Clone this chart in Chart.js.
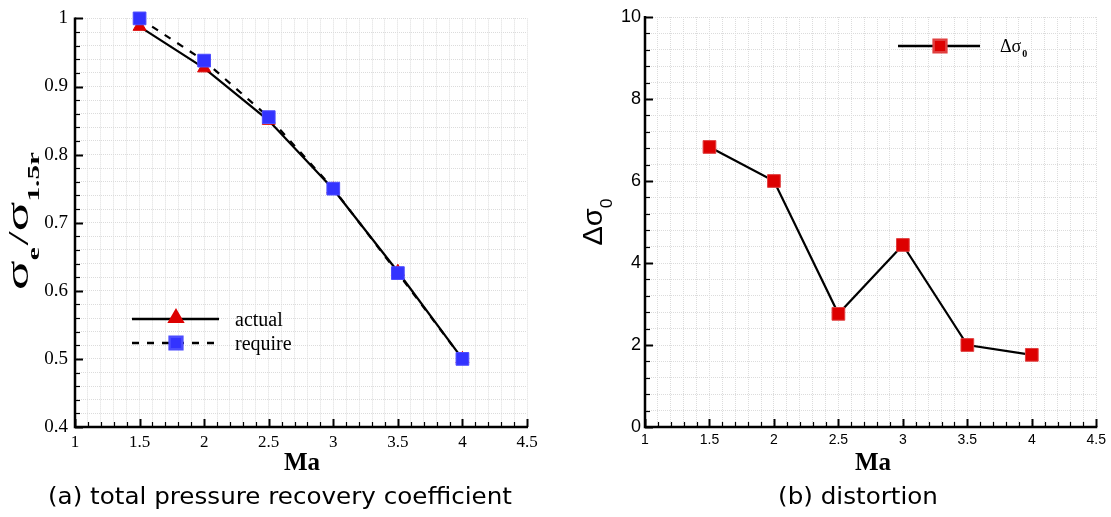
<!DOCTYPE html>
<html><head><meta charset="utf-8">
<script src="https://cdn.jsdelivr.net/npm/chart.js@4.4.0/dist/chart.umd.min.js"></script>
<style>
html,body{margin:0;padding:0;background:#fff;}
#wrap{position:relative;width:1111px;height:517px;overflow:hidden;background:#fff;}
.c{position:absolute;top:0;height:517px;}
</style></head><body>
<div id="wrap">
<div class="c" style="left:0;width:556px"><canvas id="chartA"></canvas></div>
<div class="c" style="left:556px;width:555px"><canvas id="chartB"></canvas></div>
</div>
<script>
// ---- data ----
const machNumbers = [1.5, 2, 2.5, 3, 3.5, 4];
const actualRecovery = [0.988, 0.927, 0.850, 0.749, 0.628, 0.500];
const requiredRecovery = [1.000, 0.938, 0.855, 0.750, 0.626, 0.500];
const distortion = [6.83, 6.00, 2.76, 4.44, 2.00, 1.76];
const xTickLabels = ['1', '1.5', '2', '2.5', '3', '3.5', '4', '4.5'];
const recoveryTickLabels = ['0.4', '0.5', '0.6', '0.7', '0.8', '0.9', '1'];
const distortionTickLabels = ['0', '2', '4', '6', '8', '10'];
const seriesNames = ['actual', 'require'];

const SERIF = "'Liberation Serif', 'DejaVu Serif', serif";
const SANS = "'Liberation Sans', 'DejaVu Sans', sans-serif";

function labelFor(v, list) {
  for (const l of list) { if (Math.abs(parseFloat(l) - v) < 1e-6) return l; }
  return '';
}
function isLabeled(v, list) { return labelFor(v, list) !== ''; }

function drawAxes(chart, xList, yList) {
  const {ctx, chartArea: ca, scales: {x, y}} = chart;
  ctx.save();
  ctx.strokeStyle = '#000';
  x.ticks.forEach(t => {
    const px = Math.round(x.getPixelForValue(t.value)) + 0.5;
    const major = isLabeled(t.value, xList);
    ctx.lineWidth = major ? 2 : 1.2;
    ctx.beginPath(); ctx.moveTo(px, ca.bottom); ctx.lineTo(px, ca.bottom - (major ? 8 : 5)); ctx.stroke();
  });
  y.ticks.forEach(t => {
    const py = Math.round(y.getPixelForValue(t.value)) + 0.5;
    const major = isLabeled(t.value, yList);
    ctx.lineWidth = major ? 2 : 1.2;
    ctx.beginPath(); ctx.moveTo(ca.left, py); ctx.lineTo(ca.left + (major ? 8 : 5), py); ctx.stroke();
  });
  ctx.lineWidth = 2.5;
  ctx.beginPath();
  ctx.moveTo(ca.left, ca.top - 1);
  ctx.lineTo(ca.left, ca.bottom);
  ctx.lineTo(ca.right + 1, ca.bottom);
  ctx.stroke();
  ctx.restore();
}

function drawRotatedParts(ctx, cx, baseX, parts, targetLen) {
  ctx.save();
  let w = 0;
  parts.forEach(p => { ctx.font = p.font; p.w = ctx.measureText(p.t).width; w += p.w + (p.gap || 0); });
  const s = targetLen ? targetLen / w : 1;
  ctx.translate(baseX, cx);
  ctx.rotate(-Math.PI / 2);
  ctx.scale(s, 1);
  let pos = -w / 2;
  ctx.fillStyle = '#000';
  ctx.textBaseline = 'alphabetic';
  ctx.textAlign = 'left';
  parts.forEach(p => { ctx.font = p.font; ctx.fillText(p.t, pos, p.dy || 0); pos += p.w + (p.gap || 0); });
  ctx.restore();
}

function drawCaption(ctx, text, cx, baseY, font, scaleX) {
  ctx.save();
  ctx.font = font;
  ctx.fillStyle = '#000';
  ctx.textBaseline = 'alphabetic';
  ctx.textAlign = 'center';
  ctx.translate(cx, baseY);
  ctx.scale(scaleX, 1);
  ctx.fillText(text, 0, 0);
  ctx.restore();
}

const CAPTION_FONT = "23px 'DejaVu Sans', sans-serif";
function captionScale(ctx) {
  ctx.save(); ctx.font = CAPTION_FONT;
  const w = ctx.measureText('(a) total pressure recovery coefficient').width;
  ctx.restore();
  return 464 / w;
}

const gridCommon = {color: '#dcdcdc', lineWidth: 1, drawTicks: false};

// ---------------- Chart A ----------------
const decorA = {
  id: 'decorA',
  beforeDatasetsDraw(chart) { drawAxes(chart, xTickLabels, recoveryTickLabels); },
  afterDraw(chart) {
    const ctx = chart.ctx;
    drawRotatedParts(ctx, 221, 28, [
      {t: 'σ', font: `32px ${SERIF}`},
      {t: 'e', font: `bold 17px ${SERIF}`, dy: 11, gap: 1},
      {t: '/', font: `30px ${SERIF}`},
      {t: 'σ', font: `32px ${SERIF}`},
      {t: '1.5r', font: `bold 17px ${SERIF}`, dy: 11}
    ], 138);
    ctx.save();
    ctx.font = `bold 25px ${SERIF}`; ctx.fillStyle = '#000'; ctx.textAlign = 'center'; ctx.textBaseline = 'alphabetic';
    ctx.fillText('Ma', 302, 470);
    ctx.restore();
    // legend
    ctx.save();
    ctx.strokeStyle = '#000'; ctx.lineWidth = 2.5;
    ctx.beginPath(); ctx.moveTo(132, 319); ctx.lineTo(219, 319); ctx.stroke();
    ctx.setLineDash([7, 8]);
    ctx.beginPath(); ctx.moveTo(132, 343); ctx.lineTo(219, 343); ctx.stroke();
    ctx.setLineDash([]);
    ctx.fillStyle = '#dd0000'; ctx.strokeStyle = '#dd0000';
    Chart.helpers.drawPoint(ctx, {pointStyle: 'triangle', radius: 7.5, borderWidth: 1, rotation: 0}, 176, 318);
    ctx.fillStyle = '#3333ff'; ctx.strokeStyle = '#4d4dff';
    Chart.helpers.drawPoint(ctx, {pointStyle: 'rect', radius: 9, borderWidth: 1, rotation: 0}, 176, 343);
    ctx.fillStyle = '#000'; ctx.font = `20px ${SERIF}`; ctx.textAlign = 'left'; ctx.textBaseline = 'alphabetic';
    ctx.fillText(seriesNames[0], 235, 326);
    ctx.fillText(seriesNames[1], 235, 350);
    ctx.restore();
    drawCaption(ctx, '(a) total pressure recovery coefficient', 280, 504, CAPTION_FONT, captionScale(ctx));
  }
};

new Chart(document.getElementById('chartA'), {
  type: 'line',
  data: {
    datasets: [
      {
        label: seriesNames[0],
        data: machNumbers.map((m, i) => ({x: m, y: actualRecovery[i]})),
        borderColor: '#000', borderWidth: 2.2,
        pointStyle: 'triangle', pointRadius: 7.5,
        pointBackgroundColor: '#dd0000', pointBorderColor: '#dd0000', pointBorderWidth: 1,
        order: 2, clip: false, tension: 0
      },
      {
        label: seriesNames[1],
        data: machNumbers.map((m, i) => ({x: m, y: requiredRecovery[i]})),
        borderColor: '#000', borderWidth: 2.2, borderDash: [7, 8],
        pointStyle: 'rect', pointRadius: 9,
        pointBackgroundColor: '#3333ff', pointBorderColor: '#4d4dff', pointBorderWidth: 1,
        order: 1, clip: false, tension: 0
      }
    ]
  },
  options: {
    responsive: true, maintainAspectRatio: false, animation: false, devicePixelRatio: 1,
    layout: {padding: {top: 16, right: 29, left: 0, bottom: 0}},
    plugins: {legend: {display: false}, tooltip: {enabled: false}, title: {display: false}},
    scales: {
      x: {
        type: 'linear', min: 1, max: 4.5,
        ticks: {stepSize: 0.1, maxTicksLimit: 1000, autoSkip: false, maxRotation: 0, padding: 5, color: '#000',
          font: {family: SERIF, size: 17}, callback: v => labelFor(v, xTickLabels)},
        grid: gridCommon, border: {display: false, dash: [1, 1]},
        afterFit: s => { s.height = 90; }
      },
      y: {
        type: 'linear', min: 0.4, max: 1,
        ticks: {stepSize: 0.02, maxTicksLimit: 1000, autoSkip: false, padding: 7, color: '#000',
          font: {family: SERIF, size: 19}, callback: v => labelFor(v, recoveryTickLabels)},
        grid: gridCommon, border: {display: false, dash: [1, 1]},
        afterFit: s => { s.width = 75; }
      }
    }
  },
  plugins: [decorA]
});

// ---------------- Chart B ----------------
const decorB = {
  id: 'decorB',
  beforeDatasetsDraw(chart) { drawAxes(chart, xTickLabels, distortionTickLabels); },
  afterDraw(chart) {
    const ctx = chart.ctx;
    drawRotatedParts(ctx, 222, 46, [
      {t: 'Δσ', font: `28px ${SANS}`},
      {t: '0', font: `17px ${SANS}`, dy: 10}
    ], 47);
    ctx.save();
    ctx.font = `bold 25px ${SERIF}`; ctx.fillStyle = '#000'; ctx.textAlign = 'center'; ctx.textBaseline = 'alphabetic';
    ctx.fillText('Ma', 873 - 556, 470);
    ctx.restore();
    // legend
    ctx.save();
    ctx.strokeStyle = '#000'; ctx.lineWidth = 2.5;
    ctx.beginPath(); ctx.moveTo(898 - 556, 46); ctx.lineTo(980 - 556, 46); ctx.stroke();
    ctx.fillStyle = '#dd0000'; ctx.strokeStyle = '#e04040';
    Chart.helpers.drawPoint(ctx, {pointStyle: 'rect', radius: 9, borderWidth: 1, rotation: 0}, 940 - 556, 46);
    ctx.fillStyle = '#000'; ctx.textAlign = 'left'; ctx.textBaseline = 'alphabetic';
    ctx.font = `18px ${SERIF}`;
    ctx.fillText('Δσ', 1000 - 556, 52);
    const w = ctx.measureText('Δσ').width;
    ctx.font = `bold 10px ${SERIF}`;
    ctx.fillText('0', 1000 - 556 + w + 1, 57);
    ctx.restore();
    drawCaption(ctx, '(b) distortion', 858 - 556, 504, CAPTION_FONT, captionScale(ctx));
  }
};

new Chart(document.getElementById('chartB'), {
  type: 'line',
  data: {
    datasets: [
      {
        label: 'Δσ0',
        data: machNumbers.map((m, i) => ({x: m, y: distortion[i]})),
        borderColor: '#000', borderWidth: 2.2,
        pointStyle: 'rect', pointRadius: 9,
        pointBackgroundColor: '#dd0000', pointBorderColor: '#e04040', pointBorderWidth: 1,
        clip: false, tension: 0
      }
    ]
  },
  options: {
    responsive: true, maintainAspectRatio: false, animation: false, devicePixelRatio: 1,
    layout: {padding: {top: 17, right: 13, left: 0, bottom: 0}},
    plugins: {legend: {display: false}, tooltip: {enabled: false}, title: {display: false}},
    scales: {
      x: {
        type: 'linear', min: 1, max: 4.5,
        ticks: {stepSize: 0.1, maxTicksLimit: 1000, autoSkip: false, maxRotation: 0, padding: 5, color: '#000',
          font: {family: SANS, size: 14}, callback: v => labelFor(v, xTickLabels)},
        grid: gridCommon, border: {display: false, dash: [1, 1]},
        afterFit: s => { s.height = 90; }
      },
      y: {
        type: 'linear', min: 0, max: 10,
        ticks: {stepSize: 0.4, maxTicksLimit: 1000, autoSkip: false, padding: 4, color: '#000',
          font: {family: SANS, size: 18}, callback: v => labelFor(v, distortionTickLabels)},
        grid: gridCommon, border: {display: false, dash: [1, 1]},
        afterFit: s => { s.width = 89; }
      }
    }
  },
  plugins: [decorB]
});
</script>
</body></html>
